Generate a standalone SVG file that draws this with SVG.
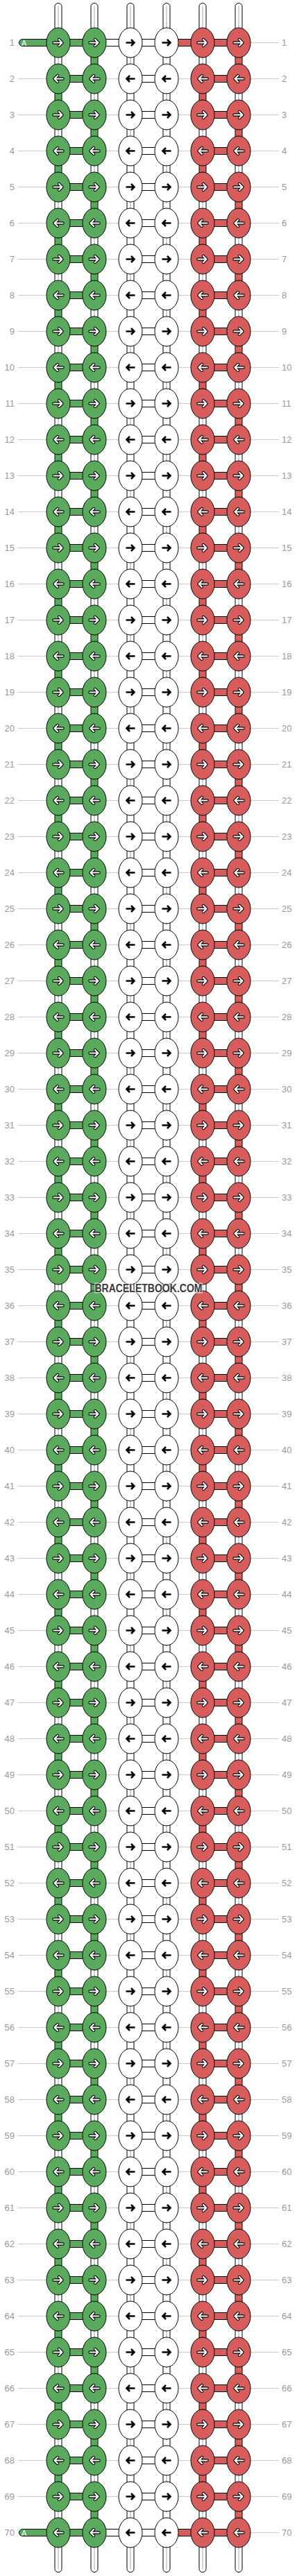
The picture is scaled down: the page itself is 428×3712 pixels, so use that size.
<svg xmlns="http://www.w3.org/2000/svg" width="428" height="3712" viewBox="0 0 428 3712">
<defs>
<style>
.ln{stroke:#c8c8c8;stroke-width:1;fill:none}
.lb{font-family:"Liberation Sans",Arial,sans-serif;font-size:13px;fill:#999}
.e{text-anchor:end}
.s{stroke:#000;stroke-width:1}
.G{fill:#5aaa5e}
.R{fill:#d75d5d}
.W{fill:#fff}
.t{stroke:#c0c0c0;stroke-width:1.4;fill:none}
.ab{fill:none;stroke:#000;stroke-width:2.6}
.ao{fill:none;stroke:#000;stroke-width:4.4;stroke-linejoin:round;stroke-linecap:round}
.aw{fill:none;stroke:#fff;stroke-width:2.2;stroke-linejoin:round;stroke-linecap:round}
.wm{font-family:"Liberation Sans",Arial,sans-serif;font-size:16px;font-weight:bold;fill:#3a3a3a;stroke:#fff;stroke-width:3;stroke-opacity:.6;paint-order:stroke;text-anchor:middle}
.at{font-family:"Liberation Sans",Arial,sans-serif;font-size:11px;fill:#fff}
</style>
<path id="ar" d="M-6.5,0H5.5M1,-4.5L5.5,0L1,4.5"/>
<g id="aW"><use href="#ar" class="ao"/><use href="#ar" class="aw"/></g>
<ellipse id="kn" rx="17" ry="21.5"/>
<g id="GR"><use href="#kn" class="s G"/><use href="#aW"/></g>
<g id="GL"><use href="#kn" class="s G"/><use href="#aW" transform="scale(-1,1)"/></g>
<g id="RR"><use href="#kn" class="s R"/><use href="#aW"/></g>
<g id="RL"><use href="#kn" class="s R"/><use href="#aW" transform="scale(-1,1)"/></g>
<g id="WR"><use href="#kn" class="s W"/><use href="#ar" class="ab"/></g>
<g id="WL"><use href="#kn" class="s W"/><use href="#ar" class="ab" transform="scale(-1,1)"/></g>
<rect id="hb" y="-5" width="21" height="10"/>
<rect id="vb" x="-5" y="20" width="10" height="12"/>
<g id="vT"><use href="#vb" class="s W"/><path d="M0,20.5V31.5" class="t"/></g>
<g id="rowH"><path class="ln" d="M26,0H402"/><use href="#hb" x="99.5" class="s G"/><use href="#hb" x="203.5" class="s W"/><use href="#hb" x="307.5" class="s R"/></g>
<g id="gapO"><use href="#vT" x="84"/><use href="#vb" x="136" class="s G"/><use href="#vT" x="188"/><use href="#vb" x="240" class="s W"/><use href="#vT" x="292"/><use href="#vb" x="344" class="s R"/></g>
<g id="gapE"><use href="#vb" x="84" class="s G"/><use href="#vT" x="136"/><use href="#vb" x="188" class="s W"/><use href="#vT" x="240"/><use href="#vb" x="292" class="s R"/><use href="#vT" x="344"/></g>
<g id="pair"><use href="#rowH"/><use href="#gapO"/><use href="#rowH" y="52"/><use href="#gapE" y="52"/></g>
<g id="tube"><path d="M-5,-15V-52A5,5 0 0 1 5,-52V-15Z" class="s W"/><path d="M0,-53V-22" class="t"/></g>
<g id="atube"><path d="M80,-5H32.5A5,5 0 0 0 32.5,5H80Z" class="s G"/><text x="31" y="4" class="at">A</text></g>
</defs>
<rect width="428" height="3712" fill="#fff"/>
<g id="connectors">
<use href="#pair" y="61.5"/><use href="#pair" y="165.5"/><use href="#pair" y="269.5"/><use href="#pair" y="373.5"/><use href="#pair" y="477.5"/><use href="#pair" y="581.5"/><use href="#pair" y="685.5"/><use href="#pair" y="789.5"/><use href="#pair" y="893.5"/><use href="#pair" y="997.5"/><use href="#pair" y="1101.5"/><use href="#pair" y="1205.5"/><use href="#pair" y="1309.5"/><use href="#pair" y="1413.5"/><use href="#pair" y="1517.5"/><use href="#pair" y="1621.5"/><use href="#pair" y="1725.5"/><use href="#pair" y="1829.5"/><use href="#pair" y="1933.5"/><use href="#pair" y="2037.5"/><use href="#pair" y="2141.5"/><use href="#pair" y="2245.5"/><use href="#pair" y="2349.5"/><use href="#pair" y="2453.5"/><use href="#pair" y="2557.5"/><use href="#pair" y="2661.5"/><use href="#pair" y="2765.5"/><use href="#pair" y="2869.5"/><use href="#pair" y="2973.5"/><use href="#pair" y="3077.5"/><use href="#pair" y="3181.5"/><use href="#pair" y="3285.5"/><use href="#pair" y="3389.5"/><use href="#pair" y="3493.5"/>
<use href="#rowH" y="3597.5"/><use href="#gapO" y="3597.5"/><use href="#rowH" y="3649.5"/>
<use href="#hb" x="151.5" y="61.5" class="s W"/><use href="#hb" x="255.5" y="61.5" class="s R"/>
<use href="#hb" x="151.5" y="3649.5" class="s W"/><use href="#hb" x="255.5" y="3649.5" class="s R"/>
<use href="#tube" x="84" y="61.5"/><use href="#tube" x="136" y="61.5"/><use href="#tube" x="188" y="61.5"/><use href="#tube" x="240" y="61.5"/><use href="#tube" x="292" y="61.5"/><use href="#tube" x="344" y="61.5"/>
<use href="#tube" transform="translate(84,3649.5) scale(1,-1)"/><use href="#tube" transform="translate(136,3649.5) scale(1,-1)"/><use href="#tube" transform="translate(188,3649.5) scale(1,-1)"/><use href="#tube" transform="translate(240,3649.5) scale(1,-1)"/><use href="#tube" transform="translate(292,3649.5) scale(1,-1)"/><use href="#tube" transform="translate(344,3649.5) scale(1,-1)"/>
<use href="#atube" y="61.5"/><use href="#atube" y="3649.5"/>
</g>
<g id="knots">
<g id="r1" transform="translate(0,61.5)"><g id="k1-1"><use href="#GR" x="84"/></g><g id="k1-2"><use href="#GR" x="136"/></g><g id="k1-3"><use href="#WR" x="188"/></g><g id="k1-4"><use href="#WR" x="240"/></g><g id="k1-5"><use href="#RR" x="292"/></g><g id="k1-6"><use href="#RR" x="344"/></g></g>
<g id="r2" transform="translate(0,113.5)"><g id="k2-1"><use href="#GL" x="84"/></g><g id="k2-2"><use href="#GL" x="136"/></g><g id="k2-3"><use href="#WL" x="188"/></g><g id="k2-4"><use href="#WL" x="240"/></g><g id="k2-5"><use href="#RL" x="292"/></g><g id="k2-6"><use href="#RL" x="344"/></g></g>
<g id="r3" transform="translate(0,165.5)"><g id="k3-1"><use href="#GR" x="84"/></g><g id="k3-2"><use href="#GR" x="136"/></g><g id="k3-3"><use href="#WR" x="188"/></g><g id="k3-4"><use href="#WR" x="240"/></g><g id="k3-5"><use href="#RR" x="292"/></g><g id="k3-6"><use href="#RR" x="344"/></g></g>
<g id="r4" transform="translate(0,217.5)"><g id="k4-1"><use href="#GL" x="84"/></g><g id="k4-2"><use href="#GL" x="136"/></g><g id="k4-3"><use href="#WL" x="188"/></g><g id="k4-4"><use href="#WL" x="240"/></g><g id="k4-5"><use href="#RL" x="292"/></g><g id="k4-6"><use href="#RL" x="344"/></g></g>
<g id="r5" transform="translate(0,269.5)"><g id="k5-1"><use href="#GR" x="84"/></g><g id="k5-2"><use href="#GR" x="136"/></g><g id="k5-3"><use href="#WR" x="188"/></g><g id="k5-4"><use href="#WR" x="240"/></g><g id="k5-5"><use href="#RR" x="292"/></g><g id="k5-6"><use href="#RR" x="344"/></g></g>
<g id="r6" transform="translate(0,321.5)"><g id="k6-1"><use href="#GL" x="84"/></g><g id="k6-2"><use href="#GL" x="136"/></g><g id="k6-3"><use href="#WL" x="188"/></g><g id="k6-4"><use href="#WL" x="240"/></g><g id="k6-5"><use href="#RL" x="292"/></g><g id="k6-6"><use href="#RL" x="344"/></g></g>
<g id="r7" transform="translate(0,373.5)"><g id="k7-1"><use href="#GR" x="84"/></g><g id="k7-2"><use href="#GR" x="136"/></g><g id="k7-3"><use href="#WR" x="188"/></g><g id="k7-4"><use href="#WR" x="240"/></g><g id="k7-5"><use href="#RR" x="292"/></g><g id="k7-6"><use href="#RR" x="344"/></g></g>
<g id="r8" transform="translate(0,425.5)"><g id="k8-1"><use href="#GL" x="84"/></g><g id="k8-2"><use href="#GL" x="136"/></g><g id="k8-3"><use href="#WL" x="188"/></g><g id="k8-4"><use href="#WL" x="240"/></g><g id="k8-5"><use href="#RL" x="292"/></g><g id="k8-6"><use href="#RL" x="344"/></g></g>
<g id="r9" transform="translate(0,477.5)"><g id="k9-1"><use href="#GR" x="84"/></g><g id="k9-2"><use href="#GR" x="136"/></g><g id="k9-3"><use href="#WR" x="188"/></g><g id="k9-4"><use href="#WR" x="240"/></g><g id="k9-5"><use href="#RR" x="292"/></g><g id="k9-6"><use href="#RR" x="344"/></g></g>
<g id="r10" transform="translate(0,529.5)"><g id="k10-1"><use href="#GL" x="84"/></g><g id="k10-2"><use href="#GL" x="136"/></g><g id="k10-3"><use href="#WL" x="188"/></g><g id="k10-4"><use href="#WL" x="240"/></g><g id="k10-5"><use href="#RL" x="292"/></g><g id="k10-6"><use href="#RL" x="344"/></g></g>
<g id="r11" transform="translate(0,581.5)"><g id="k11-1"><use href="#GR" x="84"/></g><g id="k11-2"><use href="#GR" x="136"/></g><g id="k11-3"><use href="#WR" x="188"/></g><g id="k11-4"><use href="#WR" x="240"/></g><g id="k11-5"><use href="#RR" x="292"/></g><g id="k11-6"><use href="#RR" x="344"/></g></g>
<g id="r12" transform="translate(0,633.5)"><g id="k12-1"><use href="#GL" x="84"/></g><g id="k12-2"><use href="#GL" x="136"/></g><g id="k12-3"><use href="#WL" x="188"/></g><g id="k12-4"><use href="#WL" x="240"/></g><g id="k12-5"><use href="#RL" x="292"/></g><g id="k12-6"><use href="#RL" x="344"/></g></g>
<g id="r13" transform="translate(0,685.5)"><g id="k13-1"><use href="#GR" x="84"/></g><g id="k13-2"><use href="#GR" x="136"/></g><g id="k13-3"><use href="#WR" x="188"/></g><g id="k13-4"><use href="#WR" x="240"/></g><g id="k13-5"><use href="#RR" x="292"/></g><g id="k13-6"><use href="#RR" x="344"/></g></g>
<g id="r14" transform="translate(0,737.5)"><g id="k14-1"><use href="#GL" x="84"/></g><g id="k14-2"><use href="#GL" x="136"/></g><g id="k14-3"><use href="#WL" x="188"/></g><g id="k14-4"><use href="#WL" x="240"/></g><g id="k14-5"><use href="#RL" x="292"/></g><g id="k14-6"><use href="#RL" x="344"/></g></g>
<g id="r15" transform="translate(0,789.5)"><g id="k15-1"><use href="#GR" x="84"/></g><g id="k15-2"><use href="#GR" x="136"/></g><g id="k15-3"><use href="#WR" x="188"/></g><g id="k15-4"><use href="#WR" x="240"/></g><g id="k15-5"><use href="#RR" x="292"/></g><g id="k15-6"><use href="#RR" x="344"/></g></g>
<g id="r16" transform="translate(0,841.5)"><g id="k16-1"><use href="#GL" x="84"/></g><g id="k16-2"><use href="#GL" x="136"/></g><g id="k16-3"><use href="#WL" x="188"/></g><g id="k16-4"><use href="#WL" x="240"/></g><g id="k16-5"><use href="#RL" x="292"/></g><g id="k16-6"><use href="#RL" x="344"/></g></g>
<g id="r17" transform="translate(0,893.5)"><g id="k17-1"><use href="#GR" x="84"/></g><g id="k17-2"><use href="#GR" x="136"/></g><g id="k17-3"><use href="#WR" x="188"/></g><g id="k17-4"><use href="#WR" x="240"/></g><g id="k17-5"><use href="#RR" x="292"/></g><g id="k17-6"><use href="#RR" x="344"/></g></g>
<g id="r18" transform="translate(0,945.5)"><g id="k18-1"><use href="#GL" x="84"/></g><g id="k18-2"><use href="#GL" x="136"/></g><g id="k18-3"><use href="#WL" x="188"/></g><g id="k18-4"><use href="#WL" x="240"/></g><g id="k18-5"><use href="#RL" x="292"/></g><g id="k18-6"><use href="#RL" x="344"/></g></g>
<g id="r19" transform="translate(0,997.5)"><g id="k19-1"><use href="#GR" x="84"/></g><g id="k19-2"><use href="#GR" x="136"/></g><g id="k19-3"><use href="#WR" x="188"/></g><g id="k19-4"><use href="#WR" x="240"/></g><g id="k19-5"><use href="#RR" x="292"/></g><g id="k19-6"><use href="#RR" x="344"/></g></g>
<g id="r20" transform="translate(0,1049.5)"><g id="k20-1"><use href="#GL" x="84"/></g><g id="k20-2"><use href="#GL" x="136"/></g><g id="k20-3"><use href="#WL" x="188"/></g><g id="k20-4"><use href="#WL" x="240"/></g><g id="k20-5"><use href="#RL" x="292"/></g><g id="k20-6"><use href="#RL" x="344"/></g></g>
<g id="r21" transform="translate(0,1101.5)"><g id="k21-1"><use href="#GR" x="84"/></g><g id="k21-2"><use href="#GR" x="136"/></g><g id="k21-3"><use href="#WR" x="188"/></g><g id="k21-4"><use href="#WR" x="240"/></g><g id="k21-5"><use href="#RR" x="292"/></g><g id="k21-6"><use href="#RR" x="344"/></g></g>
<g id="r22" transform="translate(0,1153.5)"><g id="k22-1"><use href="#GL" x="84"/></g><g id="k22-2"><use href="#GL" x="136"/></g><g id="k22-3"><use href="#WL" x="188"/></g><g id="k22-4"><use href="#WL" x="240"/></g><g id="k22-5"><use href="#RL" x="292"/></g><g id="k22-6"><use href="#RL" x="344"/></g></g>
<g id="r23" transform="translate(0,1205.5)"><g id="k23-1"><use href="#GR" x="84"/></g><g id="k23-2"><use href="#GR" x="136"/></g><g id="k23-3"><use href="#WR" x="188"/></g><g id="k23-4"><use href="#WR" x="240"/></g><g id="k23-5"><use href="#RR" x="292"/></g><g id="k23-6"><use href="#RR" x="344"/></g></g>
<g id="r24" transform="translate(0,1257.5)"><g id="k24-1"><use href="#GL" x="84"/></g><g id="k24-2"><use href="#GL" x="136"/></g><g id="k24-3"><use href="#WL" x="188"/></g><g id="k24-4"><use href="#WL" x="240"/></g><g id="k24-5"><use href="#RL" x="292"/></g><g id="k24-6"><use href="#RL" x="344"/></g></g>
<g id="r25" transform="translate(0,1309.5)"><g id="k25-1"><use href="#GR" x="84"/></g><g id="k25-2"><use href="#GR" x="136"/></g><g id="k25-3"><use href="#WR" x="188"/></g><g id="k25-4"><use href="#WR" x="240"/></g><g id="k25-5"><use href="#RR" x="292"/></g><g id="k25-6"><use href="#RR" x="344"/></g></g>
<g id="r26" transform="translate(0,1361.5)"><g id="k26-1"><use href="#GL" x="84"/></g><g id="k26-2"><use href="#GL" x="136"/></g><g id="k26-3"><use href="#WL" x="188"/></g><g id="k26-4"><use href="#WL" x="240"/></g><g id="k26-5"><use href="#RL" x="292"/></g><g id="k26-6"><use href="#RL" x="344"/></g></g>
<g id="r27" transform="translate(0,1413.5)"><g id="k27-1"><use href="#GR" x="84"/></g><g id="k27-2"><use href="#GR" x="136"/></g><g id="k27-3"><use href="#WR" x="188"/></g><g id="k27-4"><use href="#WR" x="240"/></g><g id="k27-5"><use href="#RR" x="292"/></g><g id="k27-6"><use href="#RR" x="344"/></g></g>
<g id="r28" transform="translate(0,1465.5)"><g id="k28-1"><use href="#GL" x="84"/></g><g id="k28-2"><use href="#GL" x="136"/></g><g id="k28-3"><use href="#WL" x="188"/></g><g id="k28-4"><use href="#WL" x="240"/></g><g id="k28-5"><use href="#RL" x="292"/></g><g id="k28-6"><use href="#RL" x="344"/></g></g>
<g id="r29" transform="translate(0,1517.5)"><g id="k29-1"><use href="#GR" x="84"/></g><g id="k29-2"><use href="#GR" x="136"/></g><g id="k29-3"><use href="#WR" x="188"/></g><g id="k29-4"><use href="#WR" x="240"/></g><g id="k29-5"><use href="#RR" x="292"/></g><g id="k29-6"><use href="#RR" x="344"/></g></g>
<g id="r30" transform="translate(0,1569.5)"><g id="k30-1"><use href="#GL" x="84"/></g><g id="k30-2"><use href="#GL" x="136"/></g><g id="k30-3"><use href="#WL" x="188"/></g><g id="k30-4"><use href="#WL" x="240"/></g><g id="k30-5"><use href="#RL" x="292"/></g><g id="k30-6"><use href="#RL" x="344"/></g></g>
<g id="r31" transform="translate(0,1621.5)"><g id="k31-1"><use href="#GR" x="84"/></g><g id="k31-2"><use href="#GR" x="136"/></g><g id="k31-3"><use href="#WR" x="188"/></g><g id="k31-4"><use href="#WR" x="240"/></g><g id="k31-5"><use href="#RR" x="292"/></g><g id="k31-6"><use href="#RR" x="344"/></g></g>
<g id="r32" transform="translate(0,1673.5)"><g id="k32-1"><use href="#GL" x="84"/></g><g id="k32-2"><use href="#GL" x="136"/></g><g id="k32-3"><use href="#WL" x="188"/></g><g id="k32-4"><use href="#WL" x="240"/></g><g id="k32-5"><use href="#RL" x="292"/></g><g id="k32-6"><use href="#RL" x="344"/></g></g>
<g id="r33" transform="translate(0,1725.5)"><g id="k33-1"><use href="#GR" x="84"/></g><g id="k33-2"><use href="#GR" x="136"/></g><g id="k33-3"><use href="#WR" x="188"/></g><g id="k33-4"><use href="#WR" x="240"/></g><g id="k33-5"><use href="#RR" x="292"/></g><g id="k33-6"><use href="#RR" x="344"/></g></g>
<g id="r34" transform="translate(0,1777.5)"><g id="k34-1"><use href="#GL" x="84"/></g><g id="k34-2"><use href="#GL" x="136"/></g><g id="k34-3"><use href="#WL" x="188"/></g><g id="k34-4"><use href="#WL" x="240"/></g><g id="k34-5"><use href="#RL" x="292"/></g><g id="k34-6"><use href="#RL" x="344"/></g></g>
<g id="r35" transform="translate(0,1829.5)"><g id="k35-1"><use href="#GR" x="84"/></g><g id="k35-2"><use href="#GR" x="136"/></g><g id="k35-3"><use href="#WR" x="188"/></g><g id="k35-4"><use href="#WR" x="240"/></g><g id="k35-5"><use href="#RR" x="292"/></g><g id="k35-6"><use href="#RR" x="344"/></g></g>
<g id="r36" transform="translate(0,1881.5)"><g id="k36-1"><use href="#GL" x="84"/></g><g id="k36-2"><use href="#GL" x="136"/></g><g id="k36-3"><use href="#WL" x="188"/></g><g id="k36-4"><use href="#WL" x="240"/></g><g id="k36-5"><use href="#RL" x="292"/></g><g id="k36-6"><use href="#RL" x="344"/></g></g>
<g id="r37" transform="translate(0,1933.5)"><g id="k37-1"><use href="#GR" x="84"/></g><g id="k37-2"><use href="#GR" x="136"/></g><g id="k37-3"><use href="#WR" x="188"/></g><g id="k37-4"><use href="#WR" x="240"/></g><g id="k37-5"><use href="#RR" x="292"/></g><g id="k37-6"><use href="#RR" x="344"/></g></g>
<g id="r38" transform="translate(0,1985.5)"><g id="k38-1"><use href="#GL" x="84"/></g><g id="k38-2"><use href="#GL" x="136"/></g><g id="k38-3"><use href="#WL" x="188"/></g><g id="k38-4"><use href="#WL" x="240"/></g><g id="k38-5"><use href="#RL" x="292"/></g><g id="k38-6"><use href="#RL" x="344"/></g></g>
<g id="r39" transform="translate(0,2037.5)"><g id="k39-1"><use href="#GR" x="84"/></g><g id="k39-2"><use href="#GR" x="136"/></g><g id="k39-3"><use href="#WR" x="188"/></g><g id="k39-4"><use href="#WR" x="240"/></g><g id="k39-5"><use href="#RR" x="292"/></g><g id="k39-6"><use href="#RR" x="344"/></g></g>
<g id="r40" transform="translate(0,2089.5)"><g id="k40-1"><use href="#GL" x="84"/></g><g id="k40-2"><use href="#GL" x="136"/></g><g id="k40-3"><use href="#WL" x="188"/></g><g id="k40-4"><use href="#WL" x="240"/></g><g id="k40-5"><use href="#RL" x="292"/></g><g id="k40-6"><use href="#RL" x="344"/></g></g>
<g id="r41" transform="translate(0,2141.5)"><g id="k41-1"><use href="#GR" x="84"/></g><g id="k41-2"><use href="#GR" x="136"/></g><g id="k41-3"><use href="#WR" x="188"/></g><g id="k41-4"><use href="#WR" x="240"/></g><g id="k41-5"><use href="#RR" x="292"/></g><g id="k41-6"><use href="#RR" x="344"/></g></g>
<g id="r42" transform="translate(0,2193.5)"><g id="k42-1"><use href="#GL" x="84"/></g><g id="k42-2"><use href="#GL" x="136"/></g><g id="k42-3"><use href="#WL" x="188"/></g><g id="k42-4"><use href="#WL" x="240"/></g><g id="k42-5"><use href="#RL" x="292"/></g><g id="k42-6"><use href="#RL" x="344"/></g></g>
<g id="r43" transform="translate(0,2245.5)"><g id="k43-1"><use href="#GR" x="84"/></g><g id="k43-2"><use href="#GR" x="136"/></g><g id="k43-3"><use href="#WR" x="188"/></g><g id="k43-4"><use href="#WR" x="240"/></g><g id="k43-5"><use href="#RR" x="292"/></g><g id="k43-6"><use href="#RR" x="344"/></g></g>
<g id="r44" transform="translate(0,2297.5)"><g id="k44-1"><use href="#GL" x="84"/></g><g id="k44-2"><use href="#GL" x="136"/></g><g id="k44-3"><use href="#WL" x="188"/></g><g id="k44-4"><use href="#WL" x="240"/></g><g id="k44-5"><use href="#RL" x="292"/></g><g id="k44-6"><use href="#RL" x="344"/></g></g>
<g id="r45" transform="translate(0,2349.5)"><g id="k45-1"><use href="#GR" x="84"/></g><g id="k45-2"><use href="#GR" x="136"/></g><g id="k45-3"><use href="#WR" x="188"/></g><g id="k45-4"><use href="#WR" x="240"/></g><g id="k45-5"><use href="#RR" x="292"/></g><g id="k45-6"><use href="#RR" x="344"/></g></g>
<g id="r46" transform="translate(0,2401.5)"><g id="k46-1"><use href="#GL" x="84"/></g><g id="k46-2"><use href="#GL" x="136"/></g><g id="k46-3"><use href="#WL" x="188"/></g><g id="k46-4"><use href="#WL" x="240"/></g><g id="k46-5"><use href="#RL" x="292"/></g><g id="k46-6"><use href="#RL" x="344"/></g></g>
<g id="r47" transform="translate(0,2453.5)"><g id="k47-1"><use href="#GR" x="84"/></g><g id="k47-2"><use href="#GR" x="136"/></g><g id="k47-3"><use href="#WR" x="188"/></g><g id="k47-4"><use href="#WR" x="240"/></g><g id="k47-5"><use href="#RR" x="292"/></g><g id="k47-6"><use href="#RR" x="344"/></g></g>
<g id="r48" transform="translate(0,2505.5)"><g id="k48-1"><use href="#GL" x="84"/></g><g id="k48-2"><use href="#GL" x="136"/></g><g id="k48-3"><use href="#WL" x="188"/></g><g id="k48-4"><use href="#WL" x="240"/></g><g id="k48-5"><use href="#RL" x="292"/></g><g id="k48-6"><use href="#RL" x="344"/></g></g>
<g id="r49" transform="translate(0,2557.5)"><g id="k49-1"><use href="#GR" x="84"/></g><g id="k49-2"><use href="#GR" x="136"/></g><g id="k49-3"><use href="#WR" x="188"/></g><g id="k49-4"><use href="#WR" x="240"/></g><g id="k49-5"><use href="#RR" x="292"/></g><g id="k49-6"><use href="#RR" x="344"/></g></g>
<g id="r50" transform="translate(0,2609.5)"><g id="k50-1"><use href="#GL" x="84"/></g><g id="k50-2"><use href="#GL" x="136"/></g><g id="k50-3"><use href="#WL" x="188"/></g><g id="k50-4"><use href="#WL" x="240"/></g><g id="k50-5"><use href="#RL" x="292"/></g><g id="k50-6"><use href="#RL" x="344"/></g></g>
<g id="r51" transform="translate(0,2661.5)"><g id="k51-1"><use href="#GR" x="84"/></g><g id="k51-2"><use href="#GR" x="136"/></g><g id="k51-3"><use href="#WR" x="188"/></g><g id="k51-4"><use href="#WR" x="240"/></g><g id="k51-5"><use href="#RR" x="292"/></g><g id="k51-6"><use href="#RR" x="344"/></g></g>
<g id="r52" transform="translate(0,2713.5)"><g id="k52-1"><use href="#GL" x="84"/></g><g id="k52-2"><use href="#GL" x="136"/></g><g id="k52-3"><use href="#WL" x="188"/></g><g id="k52-4"><use href="#WL" x="240"/></g><g id="k52-5"><use href="#RL" x="292"/></g><g id="k52-6"><use href="#RL" x="344"/></g></g>
<g id="r53" transform="translate(0,2765.5)"><g id="k53-1"><use href="#GR" x="84"/></g><g id="k53-2"><use href="#GR" x="136"/></g><g id="k53-3"><use href="#WR" x="188"/></g><g id="k53-4"><use href="#WR" x="240"/></g><g id="k53-5"><use href="#RR" x="292"/></g><g id="k53-6"><use href="#RR" x="344"/></g></g>
<g id="r54" transform="translate(0,2817.5)"><g id="k54-1"><use href="#GL" x="84"/></g><g id="k54-2"><use href="#GL" x="136"/></g><g id="k54-3"><use href="#WL" x="188"/></g><g id="k54-4"><use href="#WL" x="240"/></g><g id="k54-5"><use href="#RL" x="292"/></g><g id="k54-6"><use href="#RL" x="344"/></g></g>
<g id="r55" transform="translate(0,2869.5)"><g id="k55-1"><use href="#GR" x="84"/></g><g id="k55-2"><use href="#GR" x="136"/></g><g id="k55-3"><use href="#WR" x="188"/></g><g id="k55-4"><use href="#WR" x="240"/></g><g id="k55-5"><use href="#RR" x="292"/></g><g id="k55-6"><use href="#RR" x="344"/></g></g>
<g id="r56" transform="translate(0,2921.5)"><g id="k56-1"><use href="#GL" x="84"/></g><g id="k56-2"><use href="#GL" x="136"/></g><g id="k56-3"><use href="#WL" x="188"/></g><g id="k56-4"><use href="#WL" x="240"/></g><g id="k56-5"><use href="#RL" x="292"/></g><g id="k56-6"><use href="#RL" x="344"/></g></g>
<g id="r57" transform="translate(0,2973.5)"><g id="k57-1"><use href="#GR" x="84"/></g><g id="k57-2"><use href="#GR" x="136"/></g><g id="k57-3"><use href="#WR" x="188"/></g><g id="k57-4"><use href="#WR" x="240"/></g><g id="k57-5"><use href="#RR" x="292"/></g><g id="k57-6"><use href="#RR" x="344"/></g></g>
<g id="r58" transform="translate(0,3025.5)"><g id="k58-1"><use href="#GL" x="84"/></g><g id="k58-2"><use href="#GL" x="136"/></g><g id="k58-3"><use href="#WL" x="188"/></g><g id="k58-4"><use href="#WL" x="240"/></g><g id="k58-5"><use href="#RL" x="292"/></g><g id="k58-6"><use href="#RL" x="344"/></g></g>
<g id="r59" transform="translate(0,3077.5)"><g id="k59-1"><use href="#GR" x="84"/></g><g id="k59-2"><use href="#GR" x="136"/></g><g id="k59-3"><use href="#WR" x="188"/></g><g id="k59-4"><use href="#WR" x="240"/></g><g id="k59-5"><use href="#RR" x="292"/></g><g id="k59-6"><use href="#RR" x="344"/></g></g>
<g id="r60" transform="translate(0,3129.5)"><g id="k60-1"><use href="#GL" x="84"/></g><g id="k60-2"><use href="#GL" x="136"/></g><g id="k60-3"><use href="#WL" x="188"/></g><g id="k60-4"><use href="#WL" x="240"/></g><g id="k60-5"><use href="#RL" x="292"/></g><g id="k60-6"><use href="#RL" x="344"/></g></g>
<g id="r61" transform="translate(0,3181.5)"><g id="k61-1"><use href="#GR" x="84"/></g><g id="k61-2"><use href="#GR" x="136"/></g><g id="k61-3"><use href="#WR" x="188"/></g><g id="k61-4"><use href="#WR" x="240"/></g><g id="k61-5"><use href="#RR" x="292"/></g><g id="k61-6"><use href="#RR" x="344"/></g></g>
<g id="r62" transform="translate(0,3233.5)"><g id="k62-1"><use href="#GL" x="84"/></g><g id="k62-2"><use href="#GL" x="136"/></g><g id="k62-3"><use href="#WL" x="188"/></g><g id="k62-4"><use href="#WL" x="240"/></g><g id="k62-5"><use href="#RL" x="292"/></g><g id="k62-6"><use href="#RL" x="344"/></g></g>
<g id="r63" transform="translate(0,3285.5)"><g id="k63-1"><use href="#GR" x="84"/></g><g id="k63-2"><use href="#GR" x="136"/></g><g id="k63-3"><use href="#WR" x="188"/></g><g id="k63-4"><use href="#WR" x="240"/></g><g id="k63-5"><use href="#RR" x="292"/></g><g id="k63-6"><use href="#RR" x="344"/></g></g>
<g id="r64" transform="translate(0,3337.5)"><g id="k64-1"><use href="#GL" x="84"/></g><g id="k64-2"><use href="#GL" x="136"/></g><g id="k64-3"><use href="#WL" x="188"/></g><g id="k64-4"><use href="#WL" x="240"/></g><g id="k64-5"><use href="#RL" x="292"/></g><g id="k64-6"><use href="#RL" x="344"/></g></g>
<g id="r65" transform="translate(0,3389.5)"><g id="k65-1"><use href="#GR" x="84"/></g><g id="k65-2"><use href="#GR" x="136"/></g><g id="k65-3"><use href="#WR" x="188"/></g><g id="k65-4"><use href="#WR" x="240"/></g><g id="k65-5"><use href="#RR" x="292"/></g><g id="k65-6"><use href="#RR" x="344"/></g></g>
<g id="r66" transform="translate(0,3441.5)"><g id="k66-1"><use href="#GL" x="84"/></g><g id="k66-2"><use href="#GL" x="136"/></g><g id="k66-3"><use href="#WL" x="188"/></g><g id="k66-4"><use href="#WL" x="240"/></g><g id="k66-5"><use href="#RL" x="292"/></g><g id="k66-6"><use href="#RL" x="344"/></g></g>
<g id="r67" transform="translate(0,3493.5)"><g id="k67-1"><use href="#GR" x="84"/></g><g id="k67-2"><use href="#GR" x="136"/></g><g id="k67-3"><use href="#WR" x="188"/></g><g id="k67-4"><use href="#WR" x="240"/></g><g id="k67-5"><use href="#RR" x="292"/></g><g id="k67-6"><use href="#RR" x="344"/></g></g>
<g id="r68" transform="translate(0,3545.5)"><g id="k68-1"><use href="#GL" x="84"/></g><g id="k68-2"><use href="#GL" x="136"/></g><g id="k68-3"><use href="#WL" x="188"/></g><g id="k68-4"><use href="#WL" x="240"/></g><g id="k68-5"><use href="#RL" x="292"/></g><g id="k68-6"><use href="#RL" x="344"/></g></g>
<g id="r69" transform="translate(0,3597.5)"><g id="k69-1"><use href="#GR" x="84"/></g><g id="k69-2"><use href="#GR" x="136"/></g><g id="k69-3"><use href="#WR" x="188"/></g><g id="k69-4"><use href="#WR" x="240"/></g><g id="k69-5"><use href="#RR" x="292"/></g><g id="k69-6"><use href="#RR" x="344"/></g></g>
<g id="r70" transform="translate(0,3649.5)"><g id="k70-1"><use href="#GL" x="84"/></g><g id="k70-2"><use href="#GL" x="136"/></g><g id="k70-3"><use href="#WL" x="188"/></g><g id="k70-4"><use href="#WL" x="240"/></g><g id="k70-5"><use href="#RL" x="292"/></g><g id="k70-6"><use href="#RL" x="344"/></g></g>
</g>
<g id="labels-left" class="lb e">
<text x="21" y="66">1</text><text x="21" y="118">2</text><text x="21" y="170">3</text><text x="21" y="222">4</text><text x="21" y="274">5</text><text x="21" y="326">6</text><text x="21" y="378">7</text><text x="21" y="430">8</text><text x="21" y="482">9</text><text x="21" y="534">10</text>
<text x="21" y="586">11</text><text x="21" y="638">12</text><text x="21" y="690">13</text><text x="21" y="742">14</text><text x="21" y="794">15</text><text x="21" y="846">16</text><text x="21" y="898">17</text><text x="21" y="950">18</text><text x="21" y="1002">19</text><text x="21" y="1054">20</text>
<text x="21" y="1106">21</text><text x="21" y="1158">22</text><text x="21" y="1210">23</text><text x="21" y="1262">24</text><text x="21" y="1314">25</text><text x="21" y="1366">26</text><text x="21" y="1418">27</text><text x="21" y="1470">28</text><text x="21" y="1522">29</text><text x="21" y="1574">30</text>
<text x="21" y="1626">31</text><text x="21" y="1678">32</text><text x="21" y="1730">33</text><text x="21" y="1782">34</text><text x="21" y="1834">35</text><text x="21" y="1886">36</text><text x="21" y="1938">37</text><text x="21" y="1990">38</text><text x="21" y="2042">39</text><text x="21" y="2094">40</text>
<text x="21" y="2146">41</text><text x="21" y="2198">42</text><text x="21" y="2250">43</text><text x="21" y="2302">44</text><text x="21" y="2354">45</text><text x="21" y="2406">46</text><text x="21" y="2458">47</text><text x="21" y="2510">48</text><text x="21" y="2562">49</text><text x="21" y="2614">50</text>
<text x="21" y="2666">51</text><text x="21" y="2718">52</text><text x="21" y="2770">53</text><text x="21" y="2822">54</text><text x="21" y="2874">55</text><text x="21" y="2926">56</text><text x="21" y="2978">57</text><text x="21" y="3030">58</text><text x="21" y="3082">59</text><text x="21" y="3134">60</text>
<text x="21" y="3186">61</text><text x="21" y="3238">62</text><text x="21" y="3290">63</text><text x="21" y="3342">64</text><text x="21" y="3394">65</text><text x="21" y="3446">66</text><text x="21" y="3498">67</text><text x="21" y="3550">68</text><text x="21" y="3602">69</text><text x="21" y="3654">70</text>
</g>
<g id="labels-right" class="lb">
<text x="406" y="66">1</text><text x="406" y="118">2</text><text x="406" y="170">3</text><text x="406" y="222">4</text><text x="406" y="274">5</text><text x="406" y="326">6</text><text x="406" y="378">7</text><text x="406" y="430">8</text><text x="406" y="482">9</text><text x="406" y="534">10</text>
<text x="406" y="586">11</text><text x="406" y="638">12</text><text x="406" y="690">13</text><text x="406" y="742">14</text><text x="406" y="794">15</text><text x="406" y="846">16</text><text x="406" y="898">17</text><text x="406" y="950">18</text><text x="406" y="1002">19</text><text x="406" y="1054">20</text>
<text x="406" y="1106">21</text><text x="406" y="1158">22</text><text x="406" y="1210">23</text><text x="406" y="1262">24</text><text x="406" y="1314">25</text><text x="406" y="1366">26</text><text x="406" y="1418">27</text><text x="406" y="1470">28</text><text x="406" y="1522">29</text><text x="406" y="1574">30</text>
<text x="406" y="1626">31</text><text x="406" y="1678">32</text><text x="406" y="1730">33</text><text x="406" y="1782">34</text><text x="406" y="1834">35</text><text x="406" y="1886">36</text><text x="406" y="1938">37</text><text x="406" y="1990">38</text><text x="406" y="2042">39</text><text x="406" y="2094">40</text>
<text x="406" y="2146">41</text><text x="406" y="2198">42</text><text x="406" y="2250">43</text><text x="406" y="2302">44</text><text x="406" y="2354">45</text><text x="406" y="2406">46</text><text x="406" y="2458">47</text><text x="406" y="2510">48</text><text x="406" y="2562">49</text><text x="406" y="2614">50</text>
<text x="406" y="2666">51</text><text x="406" y="2718">52</text><text x="406" y="2770">53</text><text x="406" y="2822">54</text><text x="406" y="2874">55</text><text x="406" y="2926">56</text><text x="406" y="2978">57</text><text x="406" y="3030">58</text><text x="406" y="3082">59</text><text x="406" y="3134">60</text>
<text x="406" y="3186">61</text><text x="406" y="3238">62</text><text x="406" y="3290">63</text><text x="406" y="3342">64</text><text x="406" y="3394">65</text><text x="406" y="3446">66</text><text x="406" y="3498">67</text><text x="406" y="3550">68</text><text x="406" y="3602">69</text><text x="406" y="3654">70</text>
</g>
<text id="watermark" x="214" y="1862" class="wm" textLength="155" lengthAdjust="spacingAndGlyphs">BRACELETBOOK.COM</text>
</svg>
